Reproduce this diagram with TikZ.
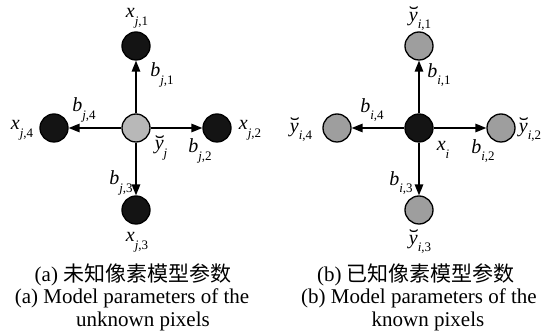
\documentclass[tikz,border=0pt]{standalone}
\usepackage{fontspec}
\setmainfont{Liberation Serif}
\newfontfamily\cjk{Noto Sans CJK SC}
\usetikzlibrary{arrows.meta}
\newcommand\sbx[1]{\raisebox{-0.38em}{\fontsize{13}{13}\selectfont #1}}
\newcommand\by{\textit{y}\makebox[0pt][r]{\raisebox{0.02em}{\scalebox{1.5}[1]{\char"02D8}}\kern-0.06em}}
\begin{document}
\begin{tikzpicture}[x=1pt,y=-1pt,
  dot/.style={circle,draw=black,line width=1.3pt,minimum size=28pt,inner sep=0pt},
  blk/.style={dot,fill=black!92},
  gl/.style={dot,fill=black!28},
  gd/.style={dot,fill=black!38},
  arr/.style={-{Triangle[length=11pt,width=8.5pt]},line width=1.5pt},
  lb/.style={font=\fontsize{20}{20}\selectfont,inner sep=0pt},
  captxt/.style={font=\fontsize{21}{21}\selectfont,inner sep=0pt}]
\useasboundingbox (0,0) rectangle (550,331);
% ---------- left diagram ----------
\node[gl]  (lc) at (136,128) {};
\node[blk] (l1) at (136,46) {};
\node[blk] (l2) at (217,128) {};
\node[blk] (l3) at (136,210) {};
\node[blk] (l4) at (54,128) {};
\draw[arr] (lc) -- (l1);
\draw[arr] (lc) -- (l2);
\draw[arr] (lc) -- (l3);
\draw[arr] (lc) -- (l4);
\node[lb] (tx1) at (137,18) {\textit{x}\sbx{\textit{j},1}};
\node[lb] (tb1) at (162,75) {\textit{b}\sbx{\textit{j},1}};
\node[lb] (tb4) at (84,110) {\textit{b}\sbx{\textit{j},4}};
\node[lb] (tx4) at (22,130) {\textit{x}\sbx{\textit{j},4}};
\node[lb] (tx2) at (250,130) {\textit{x}\sbx{\textit{j},2}};
\node[lb] (tyj) at (161,148) {\by\sbx{\textit{j}}};
\node[lb] (tb2) at (200,151) {\textit{b}\sbx{\textit{j},2}};
\node[lb] (tb3) at (121,183) {\textit{b}\sbx{\textit{j},3}};
\node[lb] (tx3) at (137,242) {\textit{x}\sbx{\textit{j},3}};
% ---------- right diagram ----------
\node[blk] (rc) at (419,128) {};
\node[gd]  (r1) at (419,46) {};
\node[gd]  (r2) at (501,128) {};
\node[gd]  (r3) at (419,210) {};
\node[gd]  (r4) at (337,128) {};
\draw[arr] (rc) -- (r1);
\draw[arr] (rc) -- (r2);
\draw[arr] (rc) -- (r3);
\draw[arr] (rc) -- (r4);
\node[lb] (ty1) at (420,19) {\by\sbx{\textit{i},1}};
\node[lb] (ub1) at (439,75) {\textit{b}\sbx{\textit{i},1}};
\node[lb] (ub4) at (372,110) {\textit{b}\sbx{\textit{i},4}};
\node[lb] (ty4) at (301,130) {\by\sbx{\textit{i},4}};
\node[lb] (ty2) at (530,130) {\by\sbx{\textit{i},2}};
\node[lb] (txi) at (443,150) {\textit{x}\sbx{\textit{i}}};
\node[lb] (ub2) at (483,151) {\textit{b}\sbx{\textit{i},2}};
\node[lb] (ub3) at (401,183) {\textit{b}\sbx{\textit{i},3}};
\node[lb] (ty3) at (420,242) {\by\sbx{\textit{i},3}};
% ---------- captions ----------
\node[captxt] (ca1) at (133,275) {(a) {\cjk 未知像素模型参数}};
\node[captxt] (ca2) at (132,298) {(a) Model parameters of the};
\node[captxt] (ca3) at (143,321) {unknown pixels};
\node[captxt] (cb1) at (416,275) {(b) {\cjk 已知像素模型参数}};
\node[captxt] (cb2) at (419,298) {(b) Model parameters of the};
\node[captxt] (cb3) at (428,321) {known pixels};
\end{tikzpicture}
\end{document}
